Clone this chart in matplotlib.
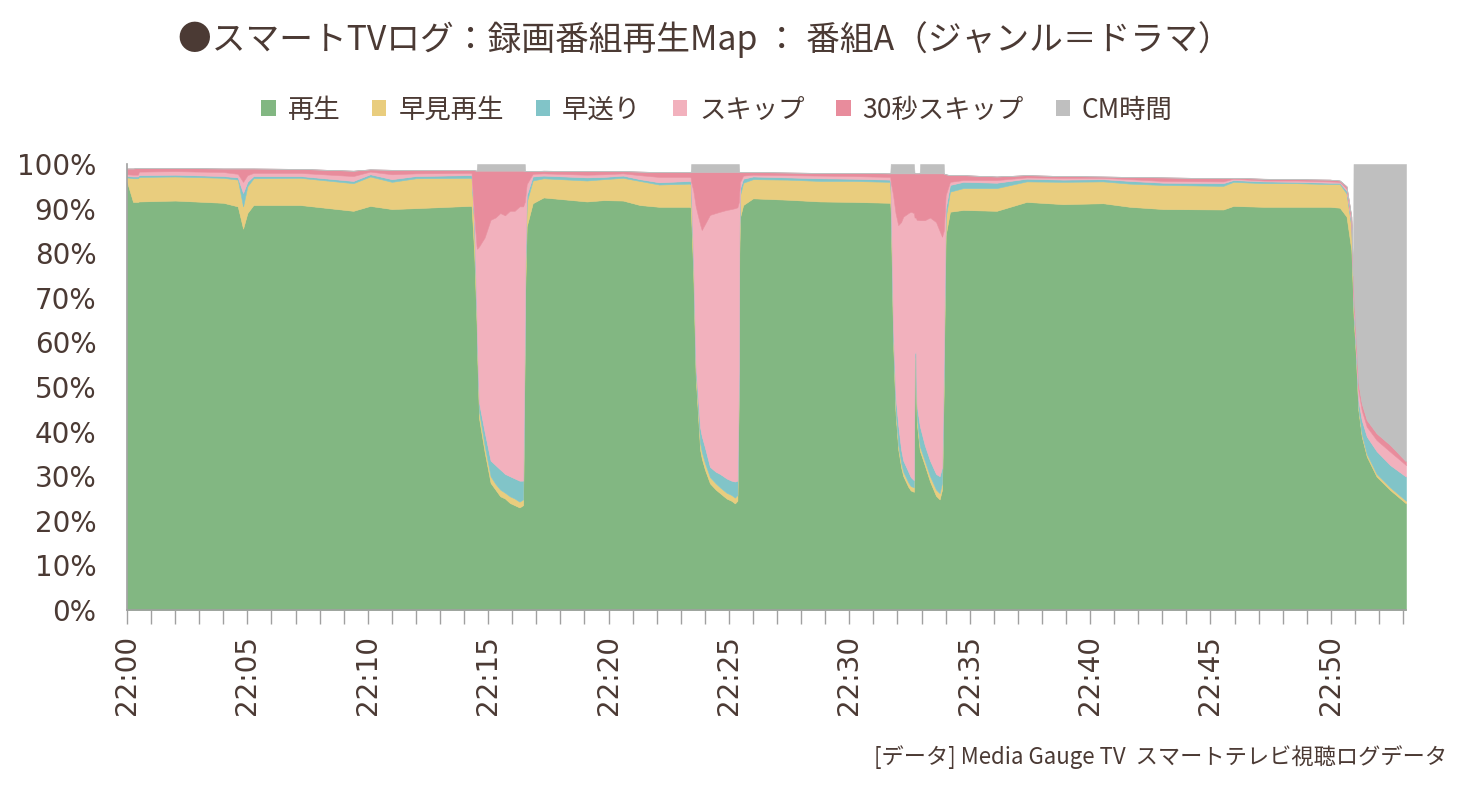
import numpy as np
import matplotlib.pyplot as plt
from matplotlib.patches import Patch
from matplotlib.ticker import MultipleLocator, FuncFormatter

plt.rcParams['font.family'] = ['Noto Sans CJK JP', 'DejaVu Sans']

TEXT = '#4B3A34'

# minutes after 22:00
minutes = [0.00, 0.25, 0.45, 0.50, 2.0, 4.0, 4.6, 4.82, 5.0, 5.25,
           7.2, 9.4, 10.1, 11.0, 12.0, 14.2, 14.31, 14.42, 14.52, 14.54,
           14.62, 14.85, 15.1, 15.3, 15.5, 15.7, 15.9, 16.1, 16.3, 16.45,
           16.52, 16.54, 16.6, 16.85, 17.3, 19.1, 19.8, 20.6, 21.3, 22.1,
           23.38, 23.41, 23.43, 23.52, 23.62, 23.80, 23.87, 24.0, 24.21, 24.45,
           24.63, 24.9, 25.1, 25.25, 25.35, 25.41, 25.43, 25.46, 25.59, 26.0,
           27.4, 28.8, 30.15, 31.68, 31.70, 31.72, 31.82, 31.92, 32.03, 32.15,
           32.24, 32.45, 32.55, 32.68, 32.71, 32.76, 32.80, 32.92, 32.94, 33.13,
           33.35, 33.6, 33.75, 33.85, 33.92, 33.94, 34.0, 34.18, 34.73, 36.12,
           37.36, 38.88, 40.54, 41.65, 43.04, 45.53, 45.95, 47.2, 48.57, 49.96,
           50.37, 50.65, 50.85, 50.92, 50.94, 51.04, 51.14, 51.28, 51.49, 51.9,
           52.46, 53.12]

play = [96.0, 91.5, 91.5, 91.6, 91.8, 91.3, 90.5, 85.5, 89.0, 90.8,
        90.8, 89.5, 90.6, 89.9, 90.1, 90.6, 90.6, 80.0, 64.0, 58.0,
        43.0, 35.5, 28.5, 27.0, 25.5, 25.0, 24.0, 23.5, 23.0, 23.5,
        60.0, 72.0, 86.0, 91.2, 92.5, 91.6, 91.9, 91.8, 90.8, 90.4,
        90.4, 90.2, 88.0, 75.0, 52.0, 36.0, 34.0, 31.5, 28.4, 27.0,
        26.2, 25.0, 24.5, 23.9, 24.5, 50.0, 80.0, 88.0, 90.8, 92.3,
        92.0, 91.6, 91.5, 91.3, 91.2, 89.0, 60.0, 44.0, 36.0, 32.0,
        30.0, 27.6, 26.8, 26.5, 56.0, 57.0, 42.0, 36.0, 35.5, 32.5,
        28.8, 25.6, 24.8, 27.0, 50.0, 60.0, 84.0, 89.3, 89.7, 89.5,
        91.5, 91.0, 91.2, 90.4, 89.9, 89.8, 90.6, 90.4, 90.4, 90.4,
        90.2, 88.2, 80.7, 70.0, 66.0, 56.8, 44.8, 38.9, 34.4, 29.9,
        26.9, 23.9]

fast_play = [1.0, 5.3, 5.3, 5.5, 5.4, 5.6, 6.0, 5.0, 6.0, 6.0,
             6.1, 6.2, 6.6, 6.1, 6.7, 6.3, 6.3, 6.0, 2.0, 2.0,
             1.5, 1.5, 1.5, 1.3, 1.5, 1.3, 1.5, 1.5, 1.3, 1.3,
             3.0, 4.0, 5.5, 5.1, 4.3, 4.7, 4.7, 5.1, 5.4, 5.0,
             5.2, 5.2, 5.0, 3.0, 1.5, 1.5, 1.5, 1.5, 1.4, 1.4,
             1.3, 1.3, 1.3, 1.3, 1.3, 2.0, 4.0, 5.0, 5.0, 4.3,
             4.5, 4.6, 4.7, 4.7, 4.6, 4.0, 1.0, 1.0, 1.0, 1.0,
             1.0, 1.0, 1.0, 1.0, 0.5, 0.5, 1.5, 1.0, 1.0, 1.0,
             1.2, 1.4, 1.4, 1.5, 2.5, 3.0, 4.0, 4.5, 4.9, 5.1,
             4.6, 5.0, 4.9, 5.2, 5.4, 5.3, 5.4, 5.3, 5.3, 5.1,
             5.3, 5.2, 5.2, 2.0, 1.5, 0.5, 0.5, 0.6, 0.6, 0.6,
             0.6, 0.6]

fast_fwd = [0.3, 0.4, 0.4, 0.4, 0.4, 0.4, 0.5, 3.0, 1.0, 0.5,
            0.4, 0.5, 0.5, 0.6, 0.5, 0.6, 0.6, 1.0, 1.0, 1.0,
            2.0, 3.0, 3.5, 4.2, 4.5, 4.2, 4.5, 4.5, 4.7, 4.2,
            2.0, 2.0, 1.5, 0.9, 0.6, 0.7, 0.5, 0.5, 0.4, 0.5,
            0.6, 0.6, 1.0, 1.0, 1.5, 3.5, 3.5, 3.5, 2.3, 2.6,
            3.0, 3.2, 3.2, 3.6, 3.2, 2.0, 1.5, 1.5, 0.9, 0.6,
            0.5, 0.6, 0.5, 0.5, 0.6, 1.0, 2.0, 3.0, 4.5, 3.0,
            2.5, 2.4, 2.0, 1.6, 1.0, 0.5, 2.5, 4.5, 4.5, 3.5,
            3.5, 3.5, 3.8, 3.5, 3.5, 3.0, 2.0, 1.5, 1.4, 1.2,
            0.6, 0.5, 0.5, 0.6, 0.5, 0.6, 0.4, 0.4, 0.3, 0.3,
            0.3, 0.6, 0.6, 0.5, 1.0, 1.2, 1.7, 3.1, 3.9, 5.1,
            5.0, 5.4]

skip = [0.4, 0.4, 0.4, 0.8, 0.8, 0.9, 0.8, 2.5, 1.5, 0.7,
        0.7, 1.1, 0.6, 1.1, 0.6, 0.5, 0.5, 1.5, 14.5, 20.0,
        35.0, 43.5, 54.0, 55.5, 57.5, 58.0, 59.5, 60.0, 61.5, 61.5,
        26.5, 14.5, 2.5, 0.6, 0.5, 0.6, 0.6, 0.5, 0.9, 1.2,
        0.9, 1.0, 2.0, 15.0, 35.5, 45.5, 46.2, 50.0, 56.5, 58.0,
        58.8, 60.2, 60.9, 61.3, 61.3, 37.5, 8.0, 1.5, 0.7, 0.4,
        0.5, 0.6, 0.6, 0.6, 0.6, 2.0, 30.0, 41.0, 44.8, 51.0,
        54.7, 58.0, 59.5, 59.9, 30.5, 30.0, 41.5, 45.9, 46.4, 50.4,
        54.5, 56.5, 55.0, 51.7, 29.0, 21.0, 3.0, 0.7, 0.4, 0.6,
        0.3, 0.4, 0.3, 0.4, 0.4, 0.4, 0.3, 0.2, 0.3, 0.3,
        0.2, 0.5, 0.8, 1.5, 1.5, 1.5, 2.3, 2.2, 2.2, 2.5,
        3.0, 2.6]

skip30 = [1.3, 1.4, 1.5, 0.8, 0.7, 0.8, 1.2, 3.0, 1.5, 1.0,
          0.9, 1.2, 0.5, 1.0, 0.8, 0.6, 0.6, 10.1, 17.0, 17.5,
          17.0, 15.0, 11.0, 10.5, 9.5, 10.0, 9.0, 9.0, 8.0, 8.0,
          6.9, 5.9, 2.9, 0.6, 0.6, 0.8, 0.7, 0.5, 0.8, 1.1,
          1.1, 1.2, 2.2, 4.2, 7.7, 11.7, 13.0, 11.7, 9.6, 9.2,
          8.9, 8.5, 8.3, 8.1, 7.9, 6.7, 4.7, 2.2, 0.8, 0.6,
          0.6, 0.6, 0.7, 0.8, 0.9, 1.9, 4.9, 8.9, 11.6, 10.9,
          9.7, 8.9, 8.6, 8.9, 9.9, 9.9, 10.4, 10.5, 10.5, 10.5,
          9.9, 10.9, 12.9, 14.2, 12.9, 10.8, 4.7, 1.5, 1.1, 0.8,
          0.5, 0.4, 0.3, 0.5, 0.8, 0.7, 0.2, 0.4, 0.3, 0.4,
          0.3, 0.5, 0.9, 1.0, 1.0, 1.0, 1.5, 1.5, 1.5, 1.5,
          1.5, 0.8]

cm = [0, 0, 0, 0, 0, 0, 0, 0, 0, 0,
      0, 0, 0, 0, 0, 0, 0, 0, 0, 1.5,
      1.5, 1.5, 1.5, 1.5, 1.5, 1.5, 1.5, 1.5, 1.5, 1.5,
      1.6, 0, 0, 0, 0, 0, 0, 0, 0, 0,
      0, 0, 1.8, 1.8, 1.8, 1.8, 1.8, 1.8, 1.8, 1.8,
      1.8, 1.8, 1.8, 1.8, 1.8, 1.8, 0, 0, 0, 0,
      0, 0, 0, 0, 0, 2.1, 2.1, 2.1, 2.1, 2.1,
      2.1, 2.1, 2.1, 2.1, 0, 0, 0, 0, 2.1, 2.1,
      2.1, 2.1, 2.1, 2.1, 2.1, 0, 0, 0, 0, 0,
      0, 0, 0, 0, 0, 0, 0, 0, 0, 0,
      0, 0, 0, 0, 29.0, 39.0, 49.2, 53.7, 57.4, 60.4,
      63.0, 66.7]

labels = ['再生', '早見再生', '早送り', 'スキップ', '30秒スキップ', 'CM時間']
colors = ['#82B782', '#E9CD7E', '#81C4C8', '#F2B1BD', '#E88C9C', '#BFBFBF']

fig = plt.figure(figsize=(14.62, 7.88), dpi=100)
ax = fig.add_axes([127 / 1462, 1 - 610 / 788, (1406 - 127) / 1462, (610 - 164) / 788])

polys = ax.stackplot(minutes, play, fast_play, fast_fwd, skip, skip30, cm,
                     colors=colors, linewidth=0)
for p, c in zip(polys, colors):
    p.set_edgecolor(c)
    p.set_linewidth(0.4)

ax.set_xlim(minutes[0], minutes[-1])
ax.set_ylim(0, 100)

ax.xaxis.set_major_locator(MultipleLocator(5))
ax.xaxis.set_minor_locator(MultipleLocator(1))
ax.xaxis.set_major_formatter(FuncFormatter(lambda v, p: f'22:{int(round(v)):02d}'))
ax.yaxis.set_major_locator(MultipleLocator(10))
ax.yaxis.set_major_formatter(FuncFormatter(lambda v, p: f'{int(round(v))}%'))

ax.tick_params(axis='x', which='both', length=10, width=1, color='#A0A0A0',
               direction='out', pad=8, labelsize=20, labelcolor=TEXT,
               labelrotation=90, labelfontfamily='DejaVu Sans')
ax.tick_params(axis='y', length=0, pad=22, labelsize=20, labelcolor=TEXT,
               labelfontfamily='DejaVu Sans')

for s in ['top', 'right']:
    ax.spines[s].set_visible(False)
for s in ['left', 'bottom']:
    ax.spines[s].set_color('#A0A0A0')
    ax.spines[s].set_linewidth(1.2)

fig.text(705 / 1462, 1 - 40 / 788,
         '●スマートTVログ：録画番組再生Map ： 番組A（ジャンル＝ドラマ）',
         ha='center', va='center', fontsize=24.3, color=TEXT)

handles = [Patch(facecolor=c, edgecolor='none') for c in colors]
fig.legend(handles, labels, loc='center', bbox_to_anchor=(717 / 1462, 1 - 110 / 788),
           ncol=6, frameon=False, fontsize=19, handlelength=0.55, handleheight=0.55,
           handletextpad=0.45, columnspacing=1.2, labelcolor=TEXT)

fig.text(1447 / 1462, 1 - 757 / 788,
         '[データ] Media Gauge TV  スマートテレビ視聴ログデータ',
         ha='right', va='center', fontsize=16, color=TEXT)

fig.savefig('out.png', dpi=100)
